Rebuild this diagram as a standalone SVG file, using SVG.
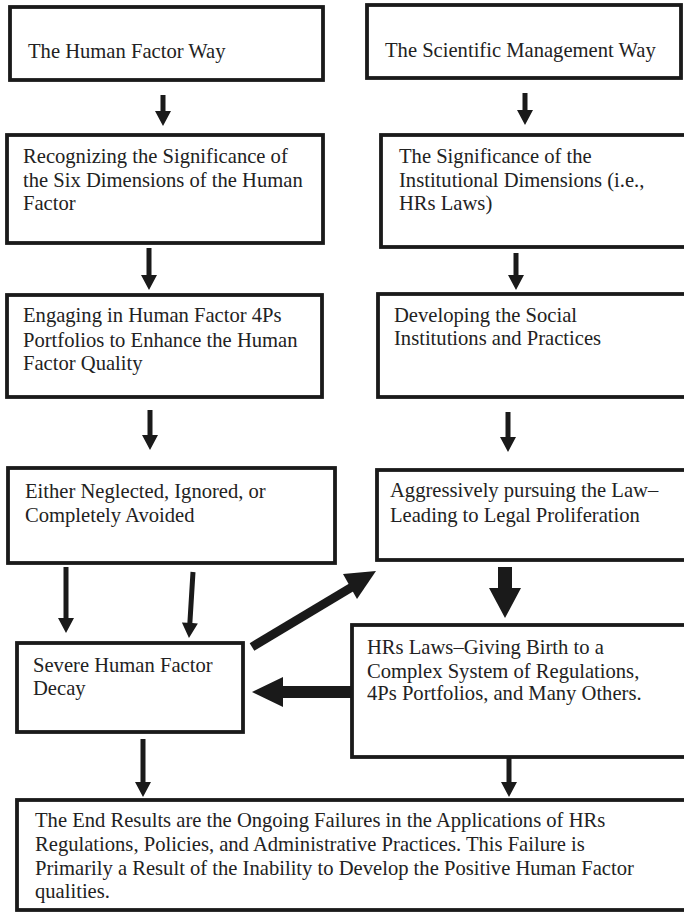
<svg xmlns="http://www.w3.org/2000/svg" width="684" height="912" viewBox="0 0 684 912">
<style>
.box{fill:#fff;stroke:#1a1a1a;stroke-width:3.8}
.t{font-family:"Liberation Serif","Times New Roman",serif;font-size:20.6px;fill:#222}
.ar{fill:#1a1a1a;stroke:none}
</style>
<rect width="684" height="912" fill="#fff"/>
<g id="connectors" class="ar">
<path d="M160.5,95 H165.5 V111 H171 L163,126 L155,111 H160.5 Z"/>
<path d="M522.5,93 H527.5 V110 H533 L525,125 L517,110 H522.5 Z"/>
<path d="M146.5,248 H151.5 V275 H157 L149,290 L141,275 H146.5 Z"/>
<path d="M513.5,253 H518.5 V275 H524 L516,290 L508,275 H513.5 Z"/>
<path d="M147.5,410 H152.5 V435 H158 L150,450 L142,435 H147.5 Z"/>
<path d="M505.5,412 H510.5 V437 H516 L508,452 L500,437 H505.5 Z"/>
<path d="M63.5,567 H68.5 V618 H74 L66,633 L58,618 H63.5 Z"/>
<path transform="rotate(3.5 193 572)" d="M190.5,572 H195.5 V623 H201 L193,638 L185,623 H190.5 Z"/>
<path d="M140.5,739 H145.5 V782 H151 L143,797 L135,782 H140.5 Z"/>
<path d="M506.5,758 H511.5 V782 H517 L509,797 L501,782 H506.5 Z"/>
<path d="M498,567 H512 V588 H521 L505,618 L489,588 H498 Z"/>
<path d="M352,686 V698 H283 V707 L252,692 L283,677 V686 Z"/>
<line x1="252" y1="647" x2="352" y2="587" stroke="#1a1a1a" stroke-width="9"/>
<path d="M376,571 L343,574 L357,599 Z"/>
</g>
<g id="n1"><rect class="box" x="10" y="7" width="313" height="73"/><text class="t" x="28" y="58">The Human Factor Way</text></g>
<g id="n2"><rect class="box" x="367" y="5" width="314" height="73"/><text class="t" x="385" y="57">The Scientific Management Way</text></g>
<g id="n3"><rect class="box" x="7" y="135" width="316" height="108"/><text class="t" x="23" y="163">Recognizing the Significance of</text><text class="t" x="23" y="187">the Six Dimensions of the Human</text><text class="t" x="23" y="210">Factor</text></g>
<g id="n4"><rect class="box" x="381" y="135" width="310" height="112"/><text class="t" x="399" y="163">The Significance of the</text><text class="t" x="399" y="187">Institutional Dimensions (i.e.,</text><text class="t" x="399" y="210">HRs Laws)</text></g>
<g id="n5"><rect class="box" x="7" y="295" width="315" height="102"/><text class="t" x="23" y="322">Engaging in Human Factor 4Ps</text><text class="t" x="23" y="347">Portfolios to Enhance the Human</text><text class="t" x="23" y="370">Factor Quality</text></g>
<g id="n6"><rect class="box" x="378" y="294" width="312" height="103"/><text class="t" x="394" y="322">Developing the Social</text><text class="t" x="394" y="345">Institutions and Practices</text></g>
<g id="n7"><rect class="box" x="8" y="468" width="327" height="95"/><text class="t" x="25" y="498">Either Neglected, Ignored, or</text><text class="t" x="25" y="522">Completely Avoided</text></g>
<g id="n8"><rect class="box" x="377" y="470" width="313" height="90"/><text class="t" x="390" y="497">Aggressively pursuing the Law–</text><text class="t" x="390" y="522">Leading to Legal Proliferation</text></g>
<g id="n9"><rect class="box" x="17" y="643" width="226" height="89"/><text class="t" x="33" y="672">Severe Human Factor</text><text class="t" x="33" y="695">Decay</text></g>
<g id="n10"><rect class="box" x="352" y="625" width="338" height="132"/><text class="t" x="367" y="654">HRs Laws–Giving Birth to a</text><text class="t" x="367" y="678">Complex System of Regulations,</text><text class="t" x="367" y="700">4Ps Portfolios, and Many Others.</text></g>
<g id="n11"><rect class="box" x="17" y="800" width="673" height="110"/><text class="t" x="35" y="827">The End Results are the Ongoing Failures in the Applications of HRs</text><text class="t" x="35" y="851">Regulations, Policies, and Administrative Practices. This Failure is</text><text class="t" x="35" y="875">Primarily a Result of the Inability to Develop the Positive Human Factor</text><text class="t" x="35" y="898">qualities.</text></g>
</svg>
